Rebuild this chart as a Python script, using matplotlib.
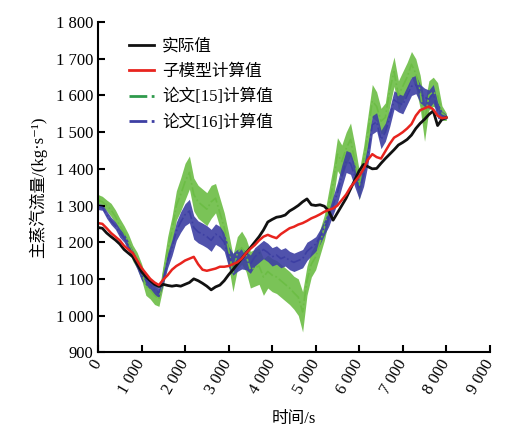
import numpy as np
import matplotlib.pyplot as plt
from matplotlib.ticker import FuncFormatter
from matplotlib.lines import Line2D

plt.rcParams['font.family'] = ['Liberation Serif', 'Noto Sans CJK SC', 'DejaVu Sans']
plt.rcParams['axes.unicode_minus'] = False

# 时间轴, 每 100 s 一个读数
t = np.arange(0, 8001, 100)

# 实际值
actual = [1240, 1238, 1225, 1215, 1206, 1195, 1180, 1170, 1160, 1140,
          1120, 1106, 1095, 1085, 1079, 1085, 1082, 1080, 1082, 1080,
          1085, 1090, 1100, 1095, 1088, 1080, 1070, 1078, 1083, 1095,
          1111, 1125, 1140, 1155, 1170, 1185, 1200, 1215, 1233, 1255,
          1262, 1268, 1270, 1274, 1285, 1292, 1300, 1310, 1318, 1302,
          1300, 1302, 1298, 1285, 1260, 1280, 1300, 1320, 1345, 1370,
          1395, 1412, 1406, 1400, 1401, 1415, 1428, 1440, 1452, 1465,
          1472, 1480, 1492, 1510, 1524, 1535, 1548, 1558, 1518, 1535,
          1540]

# 子模型计算值
submodel = [1252, 1250, 1238, 1225, 1215, 1205, 1190, 1180, 1170, 1150,
            1130, 1115, 1100, 1090, 1083, 1098, 1110, 1125, 1135, 1142,
            1150, 1155, 1160, 1140, 1125, 1122, 1125, 1128, 1133, 1133,
            1135, 1140, 1145, 1155, 1170, 1182, 1192, 1205, 1215, 1220,
            1215, 1211, 1222, 1230, 1238, 1242, 1248, 1252, 1258, 1265,
            1270, 1276, 1283, 1288, 1292, 1300, 1315, 1330, 1350, 1365,
            1380, 1400, 1425, 1440, 1432, 1428, 1448, 1468, 1485, 1492,
            1500, 1510, 1522, 1545, 1560, 1565, 1570, 1562, 1545, 1538,
            1540]

# 论文[15]计算值 (中心值与波动半宽)
ref15 = [1315, 1310, 1300, 1288, 1270, 1245, 1225, 1200, 1170, 1150,
         1120, 1080, 1070, 1055, 1045, 1110, 1180, 1230, 1300, 1330,
         1365, 1390, 1330, 1310, 1300, 1290, 1310, 1320, 1280, 1240,
         1180, 1115, 1170, 1185, 1165, 1125, 1130, 1135, 1105, 1120,
         1110, 1105, 1095, 1085, 1075, 1062, 1050, 1010, 1095, 1140,
         1160, 1200, 1240, 1300, 1360, 1440, 1420, 1455, 1480, 1420,
         1355, 1420, 1500, 1585, 1570, 1530, 1540, 1615, 1665, 1600,
         1625, 1650, 1685, 1660, 1610, 1525, 1600, 1610, 1600, 1552,
         1542]
ref15_spread = [15, 15, 15, 18, 18, 20, 20, 22, 22, 22,
                22, 25, 25, 25, 20, 30, 35, 40, 40, 45,
                50, 45, 45, 45, 45, 45, 45, 40, 40, 40,
                45, 50, 45, 45, 45, 50, 50, 50, 50, 45,
                45, 45, 45, 45, 45, 45, 50, 55, 40, 35,
                35, 35, 35, 40, 45, 45, 45, 45, 45, 45,
                40, 40, 45, 45, 40, 35, 40, 45, 40, 40,
                40, 40, 35, 40, 45, 50, 40, 40, 35, 20,
                10]

# 论文[16]计算值 (中心值与波动半宽)
ref16 = [1297, 1295, 1275, 1258, 1245, 1225, 1212, 1190, 1165, 1140,
         1110, 1097, 1085, 1070, 1062, 1100, 1150, 1185, 1230, 1255,
         1275, 1285, 1240, 1228, 1222, 1215, 1205, 1222, 1215, 1200,
         1160, 1140, 1150, 1155, 1150, 1140, 1160, 1170, 1180, 1172,
         1160, 1165, 1155, 1160, 1150, 1145, 1150, 1155, 1175, 1185,
         1195, 1215, 1240, 1265, 1300, 1335, 1380, 1420, 1415, 1380,
         1345, 1380, 1440, 1520, 1528, 1480, 1500, 1540, 1588, 1580,
         1575, 1600, 1625, 1630, 1605, 1595, 1590, 1605, 1560, 1545,
         1542]
ref16_spread = [8, 8, 10, 10, 10, 12, 12, 12, 12, 14,
                14, 14, 14, 15, 12, 15, 20, 22, 25, 28,
                30, 32, 32, 30, 30, 30, 30, 28, 28, 25,
                28, 30, 30, 28, 25, 25, 25, 25, 25, 25,
                25, 25, 25, 25, 25, 25, 25, 25, 25, 22,
                20, 20, 20, 22, 25, 28, 30, 30, 30, 30,
                28, 28, 28, 25, 25, 25, 25, 25, 25, 25,
                25, 25, 25, 25, 25, 25, 25, 25, 22, 12,
                6]

c_black = '#111111'
c_red = '#e8241e'
c_green = '#6cbd45'
c_blue = '#3d3fa3'

fig = plt.figure(figsize=(5.05, 4.43), dpi=100)
ax = fig.add_axes([0.194, 0.205, 0.776, 0.745])

g = np.array(ref15)
gs = np.array(ref15_spread)
ax.fill_between(t, g - gs, g + gs, color=c_green, lw=0, alpha=0.9)
ax.plot(t, g, color=c_green, lw=1.2, ls='-.')

b = np.array(ref16)
bs = np.array(ref16_spread)
ax.fill_between(t, b - bs, b + bs, color=c_blue, lw=0, alpha=0.9)
ax.plot(t, b, color=c_blue, lw=1.2, ls='-.')

ax.plot(t, actual, color=c_black, lw=2.0)
ax.plot(t, submodel, color=c_red, lw=1.8)

ax.set_xlim(0, 9000)
ax.set_ylim(900, 1800)
ax.set_xticks(np.arange(0, 9001, 1000))
ax.set_yticks(np.arange(900, 1801, 100))

sep = FuncFormatter(lambda v, p: '{:,}'.format(int(v)).replace(',', ' '))
ax.xaxis.set_major_formatter(sep)
ax.yaxis.set_major_formatter(sep)

for s in ['top', 'right']:
    ax.spines[s].set_visible(False)
for s in ['left', 'bottom']:
    ax.spines[s].set_linewidth(1.5)
ax.tick_params(direction='in', length=5, width=1.5, labelsize=12)
ax.tick_params(axis='x', pad=6)
for lbl in ax.get_xticklabels():
    lbl.set_rotation(60)
    lbl.set_ha('right')
    lbl.set_va('center')
    lbl.set_rotation_mode('anchor')

ax.set_xlabel('时间/s', fontsize=12, labelpad=10)
ax.set_ylabel('主蒸汽流量/(kg·s⁻¹)', fontsize=12, labelpad=6)

handles = [Line2D([], [], color=c_black, lw=2),
           Line2D([], [], color=c_red, lw=2),
           Line2D([], [], color='#2f9a4c', lw=2, ls='-.'),
           Line2D([], [], color=c_blue, lw=2, ls='-.')]
labels = ['实际值', '子模型计算值', '论文[15]计算值', '论文[16]计算值']
ax.legend(handles, labels, loc='upper left', bbox_to_anchor=(0.04, 0.995),
          frameon=False, fontsize=12, handlelength=1.5, handletextpad=0.5,
          labelspacing=0.55)

fig.savefig('out.png', dpi=100)
